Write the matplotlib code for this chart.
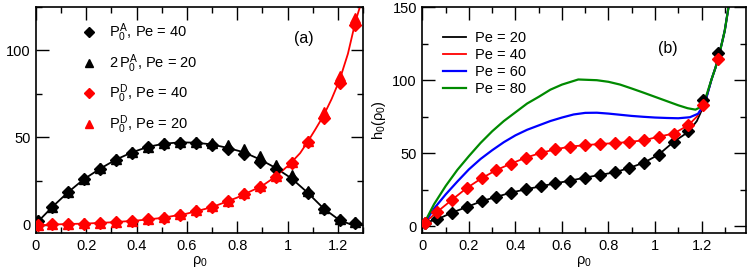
import numpy as np
import matplotlib
matplotlib.use("Agg")
import matplotlib.pyplot as plt
from matplotlib.ticker import MultipleLocator

plt.rcParams["font.family"] = ["Liberation Sans", "DejaVu Sans"]
plt.rcParams["mathtext.fontset"] = "custom"
plt.rcParams["mathtext.rm"] = "Liberation Sans"
plt.rcParams["mathtext.it"] = "Liberation Sans"
plt.rcParams["mathtext.bf"] = "Liberation Sans:bold"

# ── data: marker positions (shared by both panels) ──
rho = [0.01, 0.064, 0.127, 0.19, 0.254, 0.318, 0.381, 0.445, 0.508, 0.572, 0.635,
       0.699, 0.762, 0.826, 0.889, 0.953, 1.016, 1.08, 1.143, 1.207, 1.27]

# panel (a)
pa_pe40 = [2, 10, 18.5, 26, 32, 37.3, 41.3, 44.6, 46.5, 47, 47,
           45.7, 43.2, 40.4, 36.2, 31.8, 25.9, 18, 9, 2.9, 1]
pa_pe20 = [2.5, 10.3, 18.8, 26.3, 32.5, 37.6, 41.6, 44.8, 46.7, 47.5, 47.5,
           47, 45.7, 43.6, 39.4, 34, 28.4, 19, 9.5, 3, 1.2]
pd_pe40 = [-0.5, 0.2, 0.4, 0.6, 1, 1.5, 2.1, 3, 4, 5.5, 7.8,
           10, 13.3, 17.5, 21.3, 27.4, 35.6, 47.4, 61, 81, 114.7]
pd_pe20 = [-0.3, 0.3, 0.5, 0.7, 1.1, 1.6, 2.2, 3.1, 4.2, 5.8, 8.1,
           10.4, 13.8, 18, 21.9, 27.9, 35.8, 48, 64.6, 85, 118.5]

curve_a_black_x = [0.01, 0.064, 0.127, 0.19, 0.254, 0.318, 0.381, 0.445, 0.508, 0.572, 0.635,
                   0.699, 0.762, 0.826, 0.889, 0.953, 1.016, 1.08, 1.143, 1.207, 1.25, 1.27, 1.3]
curve_a_black_y = [2, 10, 18.5, 26, 32, 37.3, 41.4, 44.6, 46.4, 47.2, 47,
                   46, 44, 41.5, 37.5, 32.5, 26.5, 18.3, 9.3, 2.5, 0.2, 0, 0.3]
curve_a_red_x = [0, 0.1, 0.2, 0.3, 0.4, 0.5, 0.6, 0.7, 0.8, 0.9, 0.953, 1.0, 1.016,
                 1.05, 1.08, 1.11, 1.143, 1.175, 1.207, 1.24, 1.27, 1.29]
curve_a_red_y = [-0.5, 0.2, 0.6, 1.3, 2.3, 3.8, 6.3, 10, 15.5, 22.3, 27.6, 33.5, 35.8,
                 41, 47.5, 54.5, 62.5, 72, 83, 98, 116.5, 126]

# panel (b)
h_pe20 = [2.3, 4.6, 9.2, 13, 17, 20, 22.9, 25.2, 27.2, 29.3, 31.1,
          33.2, 35, 36.8, 39.8, 43.5, 49, 57.7, 65, 86.3, 119]
h_pe40 = [2.3, 9.8, 18, 26, 32.7, 38.4, 42.8, 46.9, 50.1, 52.6, 54.5,
          55.4, 56.3, 56.8, 57.7, 58.8, 61.3, 63.4, 69.1, 82.8, 114.4]

steep_x = [1.243, 1.26, 1.275, 1.29, 1.3, 1.316, 1.325]
steep_y = [100.5, 108.5, 117, 127, 134, 150, 157]

curve_b20_x = rho[:18] + [1.143, 1.18, 1.214] + steep_x
curve_b20_y = h_pe20[:18] + [64.5, 72, 84] + steep_y
curve_b40_x = rho[:19] + [1.18, 1.214] + steep_x
curve_b40_y = h_pe40[:19] + [75, 84] + steep_y
curve_b60_x = [0.01, 0.05, 0.1, 0.15, 0.2, 0.25, 0.3, 0.35, 0.4, 0.45, 0.5, 0.55, 0.6, 0.65,
               0.7, 0.75, 0.8, 0.85, 0.9, 0.95, 1.0, 1.05, 1.1, 1.15, 1.185, 1.214] + steep_x
curve_b60_y = [2.3, 12, 21.7, 30.5, 38.9, 46, 52, 57.5, 62.2, 66, 69, 72, 74.4, 76.5,
               77.6, 77.7, 77.1, 76.3, 75.5, 74.9, 74.4, 74.1, 73.9, 74.6, 77, 84] + steep_y
curve_b80_x = [0.01, 0.05, 0.1, 0.15, 0.2, 0.25, 0.3, 0.35, 0.4, 0.45, 0.5, 0.55, 0.6, 0.67,
               0.75, 0.8, 0.85, 0.9, 0.95, 1.0, 1.05, 1.1, 1.14, 1.174, 1.195, 1.214] + steep_x
curve_b80_y = [2.7, 15, 27.5, 38.5, 48, 57, 65, 72, 78, 84, 88.6, 93.5, 97, 100.5,
               100, 98.9, 97, 94.3, 91.5, 88.6, 85.7, 82.8, 80.8, 79.8, 81.5, 86] + steep_y

FS = 10.5
GREEN = "#008a00"


def style_axes(ax, xmax, ymin, ymax):
    ax.set_xlim(0, xmax)
    ax.set_ylim(ymin, ymax)
    ax.xaxis.set_major_locator(MultipleLocator(0.2))
    ax.xaxis.set_minor_locator(MultipleLocator(0.1))
    ax.yaxis.set_major_locator(MultipleLocator(50))
    ax.yaxis.set_minor_locator(MultipleLocator(25))
    ax.tick_params(which="both", direction="in", top=True, right=True,
                   labelsize=FS, width=1.0, pad=4)
    ax.tick_params(which="major", length=9)
    ax.tick_params(which="minor", length=4.5)
    ax.xaxis.set_major_formatter(plt.FuncFormatter(lambda v, p: f"{v:g}"))
    for s in ax.spines.values():
        s.set_linewidth(1.2)
    ax.set_xlabel(r"$\rho_0$", fontsize=FS, labelpad=1)


fig = plt.figure(figsize=(7.48, 2.79), dpi=100)
ax1 = fig.add_axes([0.0481, 0.1638, 0.4372, 0.812])
ax2 = fig.add_axes([0.5648, 0.1638, 0.4321, 0.81])

# ── panel (a) ──
ax1.plot(curve_a_black_x, curve_a_black_y, color="black", lw=1.3, zorder=2)
ax1.plot(curve_a_red_x, curve_a_red_y, color="red", lw=1.3, zorder=2)
ax1.plot(rho, pa_pe40, ls="none", marker="D", ms=6.3, color="black",
         label=r"$P_0^A$, Pe = 40", zorder=3)
ax1.plot(rho, pa_pe20, ls="none", marker="^", ms=7, color="black",
         label=r"2$\,P_0^A$, Pe = 20", zorder=3)
ax1.plot(rho, pd_pe40, ls="none", marker="D", ms=6.3, color="red",
         label=r"$P_0^D$, Pe = 40", zorder=3)
ax1.plot(rho, pd_pe20, ls="none", marker="^", ms=7, color="red",
         label=r"$P_0^D$, Pe = 20", zorder=3)
style_axes(ax1, 1.3, -5, 125)
leg1 = ax1.legend(loc="upper left", frameon=False, fontsize=FS, handlelength=1.0,
                  handletextpad=0.9, labelspacing=0.55, borderaxespad=0.0,
                  bbox_to_anchor=(0.122, 0.96), markerscale=0.8)
ax1.text(0.79, 0.84, "(a)", transform=ax1.transAxes, fontsize=FS + 1)

# ── panel (b) ──
ax2.plot(curve_b20_x, curve_b20_y, color="black", lw=1.3, label="Pe = 20", zorder=2)
ax2.plot(curve_b40_x, curve_b40_y, color="red", lw=1.3, label="Pe = 40", zorder=2)
ax2.plot(curve_b60_x, curve_b60_y, color="blue", lw=1.6, label="Pe = 60", zorder=2)
ax2.plot(curve_b80_x, curve_b80_y, color=GREEN, lw=1.6, label="Pe = 80", zorder=2)
ax2.plot(rho, h_pe20, ls="none", marker="D", ms=6.3, color="black", zorder=3)
ax2.plot(rho, h_pe40, ls="none", marker="D", ms=6.3, color="red", zorder=3)
style_axes(ax2, 1.39, -5, 150)
ax2.set_ylabel(r"h$_0$($\rho_0$)", fontsize=FS, labelpad=3)
ax2.legend(loc="upper left", frameon=False, fontsize=FS, handlelength=1.6,
           handletextpad=0.6, labelspacing=0.2, borderaxespad=0.0,
           bbox_to_anchor=(0.045, 0.92))
ax2.text(0.73, 0.8, "(b)", transform=ax2.transAxes, fontsize=FS + 1)

fig.savefig("out.png", dpi=100)
